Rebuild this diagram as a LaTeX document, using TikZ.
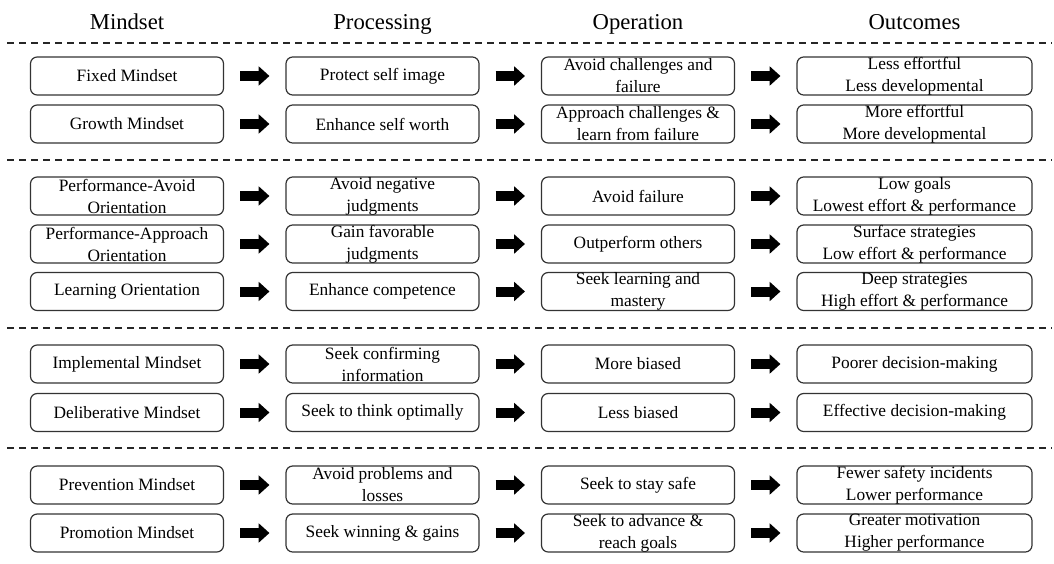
\documentclass[tikz,border=0pt]{standalone}
\usepackage{fontspec}
\setmainfont{Liberation Serif}
\usepackage{tikz}
\usetikzlibrary{arrows.meta}
\newcommand{\mindfont}{\linespread{1}\fontsize{13}{16.5}\selectfont}
\newcommand{\mindheadfont}{\linespread{1}\fontsize{17}{20}\selectfont}
\tikzset{
    mind/chart/.style={x=0.75pt, y=-0.75pt, font=\mindfont, every node/.style={align=center}},
    mind/head/.style={font=\mindheadfont, anchor=base, inner sep=0pt},
    mind/box/.style={rectangle, rounded corners=5pt, draw=black!80, line width=0.9pt, minimum width=144.75pt, minimum height=28.5pt, inner sep=0pt},
    mind/widebox/.style={mind/box, minimum width=176.25pt},
    mind/arrow/.style={-{Triangle[length=8pt, width=14.5pt, line width=0pt]}, line width=7.5pt, draw=black, shorten <=12pt, shorten >=12pt},
    mind/divider/.style={dash pattern=on 5.6pt off 3.4pt, line width=1.5pt, draw=black!85}
}

\begin{document}
\begin{tikzpicture}[mind/chart]
    \useasboundingbox (0,0) rectangle (1054,564);
    \node[mind/head] (hmind) at (127,29) {Mindset};
    \node[mind/head] (hproc) at (382.5,29) {Processing};
    \node[mind/head] (hoper) at (638,29) {Operation};
    \node[mind/head] (hout) at (914.5,29) {Outcomes};
    % implicit theories
    \node[mind/box] (fixed) at (127,76) {Fixed Mindset};
    \node[mind/box] (protect) at (382.5,76) {Protect self image};
    \node[mind/box] (avoidchal) at (638,76) {Avoid challenges and\\failure};
    \node[mind/widebox] (lesseff) at (914.5,76) {Less effortful\\Less developmental};
    \node[mind/box] (growth) at (127,124) {Growth Mindset};
    \node[mind/box] (enhworth) at (382.5,124) {Enhance self worth};
    \node[mind/box] (approach) at (638,124) {Approach challenges \&\\learn from failure};
    \node[mind/widebox] (moreeff) at (914.5,124) {More effortful\\More developmental};
    % goal orientations
    \node[mind/box] (perfavoid) at (127,196) {Performance-Avoid\\Orientation};
    \node[mind/box] (avoidneg) at (382.5,196) {Avoid negative\\judgments};
    \node[mind/box] (avoidfail) at (638,196) {Avoid failure};
    \node[mind/widebox] (lowgoals) at (914.5,196) {Low goals\\Lowest effort \& performance};
    \node[mind/box] (perfappr) at (127,244) {Performance-Approach\\Orientation};
    \node[mind/box] (gainfav) at (382.5,244) {Gain favorable\\judgments};
    \node[mind/box] (outperf) at (638,244) {Outperform others};
    \node[mind/widebox] (surface) at (914.5,244) {Surface strategies\\Low effort \& performance};
    \node[mind/box] (learning) at (127,291.5) {Learning Orientation};
    \node[mind/box] (enhcomp) at (382.5,291.5) {Enhance competence};
    \node[mind/box] (mastery) at (638,291.5) {Seek learning and\\mastery};
    \node[mind/widebox] (deep) at (914.5,291.5) {Deep strategies\\High effort \& performance};
    % action phases
    \node[mind/box] (implem) at (127,364) {Implemental Mindset};
    \node[mind/box] (confirm) at (382.5,364) {Seek confirming\\information};
    \node[mind/box] (morebias) at (638,364) {More biased};
    \node[mind/widebox] (poorer) at (914.5,364) {Poorer decision-making};
    \node[mind/box] (delib) at (127,412.5) {Deliberative Mindset};
    \node[mind/box] (optimal) at (382.5,412.5) {Seek to think optimally};
    \node[mind/box] (lessbias) at (638,412.5) {Less biased};
    \node[mind/widebox] (effective) at (914.5,412.5) {Effective decision-making};
    % regulatory focus
    \node[mind/box] (prevent) at (127,485) {Prevention Mindset};
    \node[mind/box] (avoidprob) at (382.5,485) {Avoid problems and\\losses};
    \node[mind/box] (safe) at (638,485) {Seek to stay safe};
    \node[mind/widebox] (fewer) at (914.5,485) {Fewer safety incidents\\Lower performance};
    \node[mind/box] (promote) at (127,533) {Promotion Mindset};
    \node[mind/box] (winning) at (382.5,533) {Seek winning \& gains};
    \node[mind/box] (advance) at (638,533) {Seek to advance \&\\reach goals};
    \node[mind/widebox] (greater) at (914.5,533) {Greater motivation\\Higher performance};
    \foreach \source/\target in {fixed/protect,protect/avoidchal,avoidchal/lesseff,growth/enhworth,enhworth/approach,approach/moreeff,
        perfavoid/avoidneg,avoidneg/avoidfail,avoidfail/lowgoals,perfappr/gainfav,gainfav/outperf,outperf/surface,
        learning/enhcomp,enhcomp/mastery,mastery/deep,implem/confirm,confirm/morebias,morebias/poorer,
        delib/optimal,optimal/lessbias,lessbias/effective,prevent/avoidprob,avoidprob/safe,safe/fewer,
        promote/winning,winning/advance,advance/greater}
        \draw[mind/arrow] (\source) -- (\target);
    \foreach \y in {43,160,328,448}
        \draw[mind/divider] (7,\y) -- (1052,\y);
\end{tikzpicture}
\end{document}
